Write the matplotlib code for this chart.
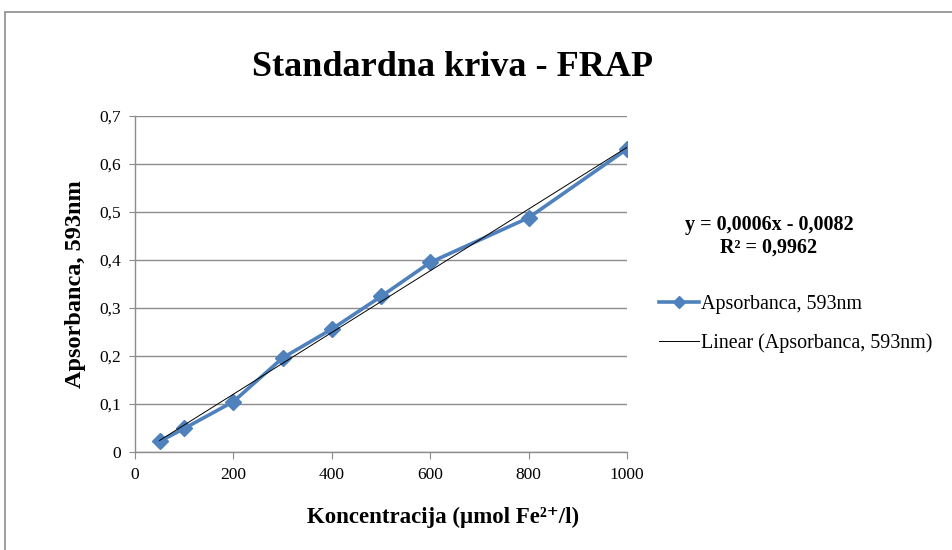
import numpy as np
import matplotlib
matplotlib.use("Agg")
import matplotlib.pyplot as plt
from matplotlib.patches import Rectangle
from matplotlib.lines import Line2D

# Data
concentration = [50, 100, 200, 300, 400, 500, 600, 800, 1000]
absorbance = [0.022, 0.049, 0.105, 0.196, 0.256, 0.324, 0.395, 0.488, 0.631]
x_ticks = [0, 200, 400, 600, 800, 1000]
y_ticks = [0, 0.1, 0.2, 0.3, 0.4, 0.5, 0.6, 0.7]
y_tick_labels = ["0", "0,1", "0,2", "0,3", "0,4", "0,5", "0,6", "0,7"]
title = "Standardna kriva - FRAP"
xlabel = "Koncentracija (µmol Fe²⁺/l)"
ylabel = "Apsorbanca, 593nm"
series_name = "Apsorbanca, 593nm"
trend_name = "Linear (Apsorbanca, 593nm)"
equation = "y = 0,0006x - 0,0082\nR² = 0,9962"

plt.rcParams['font.family'] = ['Liberation Serif', 'DejaVu Serif']

W, H = 952, 550
fig = plt.figure(figsize=(W / 100, H / 100), dpi=100)
fig.patch.set_facecolor('white')

# chart border
fig.add_artist(Rectangle((5 / W, -0.1), 1.2, 1 - 12 / H + 0.1, transform=fig.transFigure,
                         fill=False, edgecolor='#8c8c8c', linewidth=1.2))

ax = fig.add_axes([135 / W, 1 - 452 / H, (627 - 135) / W, (452 - 116) / H])
blue = '#4F81BD'

ax.plot(concentration, absorbance, color=blue, linewidth=2.6, marker='D',
        markersize=8.5, markerfacecolor=blue, markeredgecolor=blue, zorder=3)

coef = np.polyfit(concentration, absorbance, 1)
xs = np.array([min(concentration), max(concentration)])
ax.plot(xs, np.polyval(coef, xs), color='black', linewidth=0.7, zorder=4)

ax.set_xlim(0, 1000)
ax.set_ylim(0, 0.7)
ax.set_xticks(x_ticks)
ax.set_xticklabels([str(v) for v in x_ticks])
ax.set_yticks(y_ticks)
ax.set_yticklabels(y_tick_labels)
ax.tick_params(axis='both', labelsize=12.5, colors='#8c8c8c', labelcolor='black', direction='out')
ax.tick_params(axis='x', length=5, pad=6)
ax.tick_params(axis='y', length=4, pad=6)
ax.grid(axis='y', color='#8c8c8c', linewidth=1)
ax.set_axisbelow(True)
for s in ['top', 'right']:
    ax.spines[s].set_visible(False)
for s in ['left', 'bottom']:
    ax.spines[s].set_color('#8c8c8c')
    ax.spines[s].set_linewidth(1)

fig.text(453 / W, 1 - 67 / H, title, ha='center', va='center', fontsize=26, fontweight='bold')
fig.text(443 / W, 1 - 517 / H, xlabel, ha='center', va='center', fontsize=16.5, fontweight='bold')
fig.text(76 / W, 1 - 284 / H, ylabel, ha='center', va='center', fontsize=17.5, fontweight='bold', rotation=90)
fig.text(769 / W, 1 - 236 / H, equation, ha='center', va='center', fontsize=14.5, fontweight='bold',
         linespacing=1.15)

handles = [Line2D([], [], color=blue, linewidth=2.6, marker='D', markersize=6),
           Line2D([], [], color='black', linewidth=0.7)]
fig.legend(handles, [series_name, trend_name], loc='upper left',
           bbox_to_anchor=(651 / W, 1 - 287 / H), frameon=False, fontsize=14.4,
           handlelength=2.0, handletextpad=0.12, labelspacing=0.95, borderaxespad=0)

fig.savefig('out.png', dpi=100)
